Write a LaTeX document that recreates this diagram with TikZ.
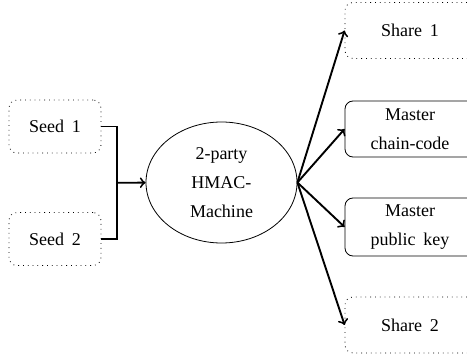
\documentclass[tikz,border=0pt]{standalone}
\usepackage{fontspec}
\setmainfont[WordSpace=1.7]{Liberation Serif}
\usepackage{tikz}
\usetikzlibrary{positioning,calc,shapes.geometric}

\begin{document}
\begin{tikzpicture}[
    node distance=0.5cm,
    >=to,
    font=\fontsize{9}{14.5}\selectfont
]

\tikzset{
    seedbox/.style={
        rounded corners=4pt,
        draw,
        dotted,
        minimum width=46pt,
        minimum height=26.5pt,
        align=center
    },
    outbox/.style={
        rounded corners=4pt,
        draw,
        minimum width=65pt,
        minimum height=28pt,
        align=center
    },
    sharebox/.style={
        outbox,
        dotted
    },
    link/.style={
        line width=0.95pt
    }
}

\useasboundingbox (0,0) rectangle (233.5pt,177pt);

% inputs
\node[seedbox] (seed1) at (27.5pt,113.75pt) {Seed 1};
\node[seedbox] (seed2) at (27.5pt,57.5pt) {Seed 2};

% joint computation
\node[
    ellipse,
    draw,
    minimum width=75.5pt,
    minimum height=60.5pt,
    inner sep=0pt,
    align=center
] (hmac) at (110.75pt,85.75pt)
{2-party\\HMAC-\\Machine};

% outputs
\node[sharebox] (share1) at (205pt,161.75pt) {Share 1};
\node[outbox] (chain) at (205pt,112.5pt) {Master\\chain-code};
\node[outbox] (pubkey) at (205pt,63.5pt) {Master\\public key};
\node[sharebox] (share2) at (205pt,14.5pt) {Share 2};

\coordinate (join) at ($(seed1.east)!0.5!(seed2.east)+(8pt,0)$);

\draw[link]
(seed1.east) -| (join) |- (seed2.east);

\draw[->,link]
(join) -- (hmac);

\draw[->,link] (hmac.east) -- (share1.west);
\draw[->,link] (hmac.east) -- (chain.west);
\draw[->,link] (hmac.east) -- (pubkey.west);
\draw[->,link] (hmac.east) -- (share2.west);

\end{tikzpicture}
\end{document}
